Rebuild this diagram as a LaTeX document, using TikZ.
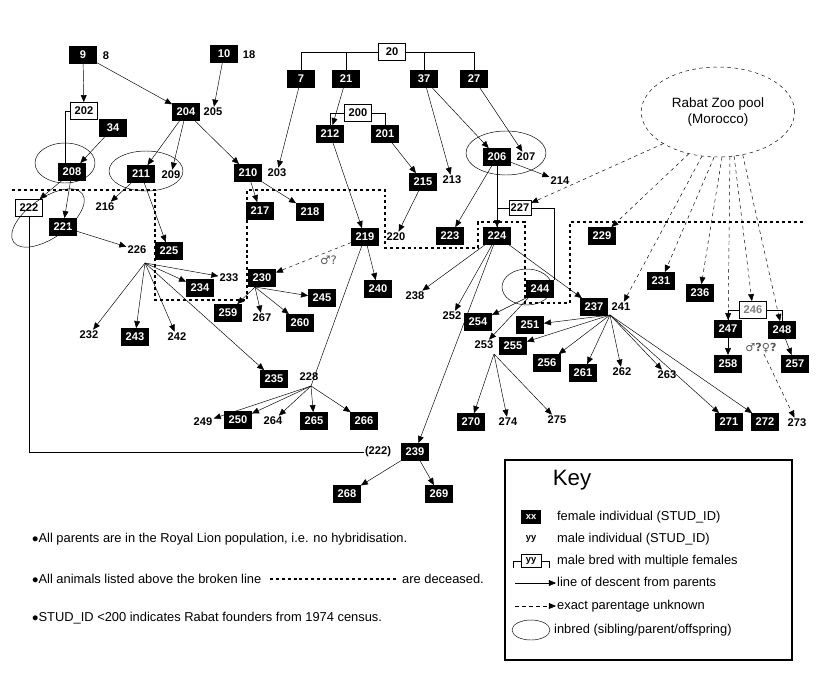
\documentclass[tikz,border=0pt]{standalone}
\usepackage{fontspec}
\setmainfont{Liberation Sans}
\usetikzlibrary{arrows.meta,shapes.geometric}
\tikzset{
  fem/.style={fill=black, text=white, font=\fontsize{9.5}{10}\selectfont\bfseries, minimum width=0.82cm, minimum height=0.52cm, inner sep=1pt},
  mal/.style={draw, fill=white, font=\fontsize{9.5}{10}\selectfont\bfseries, minimum width=0.82cm, minimum height=0.52cm, inner sep=1pt},
  num/.style={font=\fontsize{9.5}{10}\selectfont\bfseries, inner sep=1pt},
  desc/.style={-{Triangle[length=6pt,width=5pt]}},
  unk/.style={desc, dashed},
  dead/.style={line width=2.5pt, dash pattern=on 2.5pt off 2.5pt},
}
\begin{document}
\begin{tikzpicture}[x=0.03cm, y=-0.03cm]
  \useasboundingbox (0,0) rectangle (820,672);

  % top generations
  \node[fem] (n9) at (83,55) {9};   \node[num] (n8) at (106,56) {8};
  \node[fem] (n10) at (224,54) {10}; \node[num] (n18) at (249,55) {18};
  \node[mal] (n20) at (392,52) {20};
  \node[fem] (n7) at (301,79) {7};   \node[fem] (n21) at (346,79) {21};
  \node[fem] (n37) at (424,79) {37}; \node[fem] (n27) at (474,79) {27};
  \node[mal] (n202) at (84,111) {202}; \node[fem] (n34) at (113,128) {34};
  \node[fem] (n204) at (186,112) {204}; \node[num] (n205) at (213,112) {205};
  \node[mal] (n200) at (358,113) {200};
  \node[fem] (n212) at (330,134) {212}; \node[fem] (n201) at (385,134) {201};
  \node[fem] (n208) at (72,172) {208};
  \node[fem] (n211) at (141,174) {211}; \node[num] (n209) at (171,175) {209};
  \node[fem] (n210) at (248,173) {210}; \node[num] (n203) at (277,173) {203};
  \node[fem] (n206) at (497,157) {206}; \node[num] (n207) at (526,157) {207};
  \node[fem] (n215) at (423,182) {215}; \node[num] (n213) at (452,180) {213};
  \node[num] (n214) at (560,181) {214};
  \node[mal] (n222) at (29,208) {222}; \node[fem] (n221) at (63,227) {221};
  \node[num] (n216) at (105,207) {216};
  \node[fem] (n217) at (260,211) {217}; \node[fem] (n218) at (310,212) {218};
  \node[num] (n226) at (137,250) {226}; \node[fem] (n225) at (169,251) {225};
  \node[fem] (n219) at (365,237) {219}; \node[num] (n220) at (396,237) {220};
  \node[fem] (n223) at (450,236) {223}; \node[fem] (n224) at (497,236) {224};
  \node[mal, minimum width=0.65cm, minimum height=0.45cm] (n227) at (520,208) {227};
  \node[fem] (n229) at (602,236) {229};

  % inbred groups
  \draw (65,163) ellipse (30 and 20);
  \draw (146,171) ellipse (37 and 20);
  \draw (506,153) ellipse (40 and 22);
  \draw[rotate around={35:(48,218)}] (48,218) ellipse (42 and 20);
  \draw (527,287) ellipse (25 and 18);

  % later generations
  \node[num] (n233) at (229,278) {233}; \node[fem] (n234) at (200,288) {234};
  \node[fem] (n230) at (262,278) {230};
  \node[fem] (n259) at (228,313) {259}; \node[num] (n267) at (262,318) {267};
  \node[fem] (n260) at (300,323) {260}; \node[fem] (n245) at (322,298) {245};
  \node[fem] (n240) at (378,289) {240}; \node[num] (n238) at (415,296) {238};
  \node[fem] (n244) at (540,289) {244};
  \node[num] (n252) at (452,316) {252}; \node[fem] (n254) at (478,322) {254};
  \node[fem] (n251) at (530,325) {251}; \node[num] (n253) at (484,345) {253};
  \node[fem] (n255) at (513,346) {255};
  \node[fem] (n237) at (594,307) {237}; \node[num] (n241) at (621,307) {241};
  \node[fem] (n256) at (547,363) {256}; \node[fem] (n261) at (583,373) {261};
  \node[num] (n262) at (622,372) {262}; \node[num] (n263) at (667,375) {263};
  \node[fem] (n231) at (661,281) {231}; \node[fem] (n236) at (700,293) {236};
  \node[mal, text=gray] (n246) at (753,310) {246};
  \node[fem] (n247) at (728,329) {247}; \node[fem] (n248) at (782,330) {248};
  \node[fem] (n258) at (728,364) {258}; \node[fem] (n257) at (795,364) {257};
  \node[num, text=gray!70!black] (sx) at (761,348) {\fontspec{DejaVu Sans}♂?♀?};
  \node[fem] (n271) at (729,422) {271}; \node[fem] (n272) at (765,422) {272};
  \node[num] (n273) at (797,423) {273};
  \node[fem] (n270) at (471,422) {270}; \node[num] (n274) at (508,422) {274};
  \node[num] (n275) at (557,420) {275};
  \node[num] (n232) at (89,335) {232}; \node[fem] (n243) at (135,337) {243};
  \node[num] (n242) at (177,337) {242};
  \node[fem] (n235) at (274,379) {235}; \node[num] (n228) at (309,377) {228};
  \node[num] (n249) at (203,422) {249}; \node[fem] (n250) at (238,420) {250};
  \node[num] (n264) at (273,421) {264}; \node[fem] (n265) at (314,421) {265};
  \node[fem] (n266) at (364,421) {266};
  \node[num] (r222) at (378,452) {(222)}; \node[fem] (n239) at (415,452) {239};
  \node[fem] (n268) at (347,494) {268}; \node[fem] (n269) at (439,494) {269};
  \node[draw, dashed, ellipse, minimum width=4.6cm, minimum height=2.7cm, align=center, font=\fontsize{11.5}{13}\selectfont] (pool) at (718,112) {Rabat Zoo pool\\(Morocco)};

  % sibling/mating brackets
  \draw (n20.west) -| (n7.north);  \draw (346,52) -- (n21.north);
  \draw (n20.east) -| (n27.north); \draw (424,52) -- (n37.north);
  \draw (n200.west) -| (n212.north); \draw (n200.east) -| (n201.north);
  \draw (n227.west) -| (n224.north); \draw (n227.east) -| (n244.north east);
  \draw (n246.west) -| (n247.north); \draw (n246.east) -| (n248.north);
  \draw (n202.west) -| ([xshift=-6pt]n208.north);
  \draw (n222.south) |- (r222.west);

  % coordinates where offspring lines fan out
  \coordinate (f225) at (145,263);
  \coordinate (f230) at (255,287);
  \coordinate (f228) at (311,386);
  \coordinate (f253) at (494,354);
  \coordinate (f237) at (610,315);
  \coordinate (f244) at (530,296);

  % lines of descent
  \draw[desc] (n9) -- (n202);  \draw[desc] (n9) -- (n204);
  \draw[desc] (n10) -- (n205);
  \draw[desc] (n7) -- (n203);  \draw[desc] (n21) -- (n212);
  \draw[desc] (n212) -- (n219); \draw[desc] (n201) -- (n215);
  \draw[desc] (n215) -- (n220);
  \draw[desc] (n37) -- (n213); \draw[desc] (n37) -- (n206);
  \draw[desc] (n27) -- (n207);
  \draw[desc] (n34) -- (n208);
  \draw[desc] (n204) -- (n211); \draw[desc] (n204) -- (n209);
  \draw[desc] (n204) -- (n210);
  \draw[desc] (n208) -- (n222); \draw[desc] (n208) -- (n221);
  \draw[desc] (n211) -- (n216); \draw[desc] (n211) -- (n225);
  \draw[desc] (n210) -- (n217); \draw[desc] (n210) -- (n218);
  \draw[desc] (n221) -- (n226);
  \draw[desc] (n206) -- (n214); \draw[desc] (n206) -- (n223);
  \draw[desc] (n206) -- (n224);
  \draw[desc] (n219) -- (n240); \draw (n219) -- (f228);
  \draw[unk] (n219) -- node[pos=0.3, below, font=\fontspec{DejaVu Sans}\fontsize{10}{11}\selectfont, text=gray!70!black] {♂?} (n230);
  \draw[desc] (n224) -- (n238); \draw[desc] (n224) -- (n252);
  \draw[desc] (n224) -- (n239); \draw[desc] (n224) -- (n237);
  \draw[desc] (f244) -- (n254); \draw[desc] (f244) -- (n253);
  \foreach \k in {232,243,242,234,233,235} \draw[desc] (f225) -- (n\k);
  \foreach \k in {259,267,260,245} \draw[desc] (f230) -- (n\k);
  \foreach \k in {249,250,264,265,266} \draw[desc] (f228) -- (n\k);
  \foreach \k in {270,274,275} \draw[desc] (f253) -- (n\k);
  \foreach \k in {251,255,256,261,262,263,271,272} \draw[desc] (f237) -- (n\k);
  \draw[desc] (n239) -- (n268); \draw[desc] (n239) -- (n269);
  \draw[desc] (n247) -- (n258); \draw[desc] (n248) -- (n257);

  % exact parentage unknown
  \foreach \k/\a in {227/-150,229/-125,241/-110,231/-95,236/-85,247/-75,246/-70,248/-60}
    \draw[unk] (pool.\a) -- (n\k);
  \draw[unk] (sx) -- (n273);

  % deceased boundary
  \draw[dead] (12,190) -- (155,190) -- (155,300) -- (247,300) -- (247,190) -- (385,190)
    -- (385,248) -- (478,248) -- (478,222) -- (525,222) -- (525,303) -- (570,303)
    -- (570,222) -- (805,222);

  % notes
  \begin{scope}[every node/.style={anchor=west, font=\fontsize{11}{13}\selectfont}]
    \node (note1) at (28,539) {$\bullet$All parents are in the Royal Lion population, i.e. no hybridisation.};
    \node (note2) at (28,579) {$\bullet$All animals listed above the broken line};
    \node (note2b) at (398,579) {are deceased.};
    \node (note3) at (28,618) {$\bullet$STUD\_ID <200 indicates Rabat founders from 1974 census.};
  \end{scope}
  \draw[dead] ([xshift=4pt]note2.east) -- ([xshift=-2pt]note2b.west);

  % key
  \draw[line width=1.5pt] (505,460) rectangle (792,660);
  \node[font=\fontsize{19}{22}\selectfont] (key) at (572,480) {Key};
  \begin{scope}[every node/.style={anchor=west, font=\fontsize{11}{13}\selectfont}]
    \node[fem, anchor=center, minimum width=0.6cm, minimum height=0.4cm, font=\fontsize{8}{9}\selectfont\bfseries] (kf) at (531,517) {xx};
    \node (kft) at (553,517) {female individual (STUD\_ID)};
    \node[num, anchor=center, font=\fontsize{8}{9}\selectfont\bfseries] (km) at (531,539) {yy};
    \node (kmt) at (553,539) {male individual (STUD\_ID)};
    \node[mal, anchor=center, minimum width=0.6cm, minimum height=0.4cm, font=\fontsize{8}{9}\selectfont\bfseries] (kb) at (531,561) {yy};
    \node (kbt) at (553,561) {male bred with multiple females};
    \draw (kb.west) -| (513,568); \draw (kb.east) -| (549,568);
    \coordinate (kl1) at (515,583); \coordinate (kl2) at (556,583);
    \draw[desc] (kl1) -- (kl2);
    \node (klt) at (553,583) {line of descent from parents};
    \coordinate (ku1) at (515,606); \coordinate (ku2) at (556,606);
    \draw[unk] (ku1) -- (ku2);
    \node (kut) at (553,606) {exact parentage unknown};
    \draw (531,630) ellipse (19 and 10);
    \node (ket) at (550,630) {inbred (sibling/parent/offspring)};
  \end{scope}
\end{tikzpicture}
\end{document}
